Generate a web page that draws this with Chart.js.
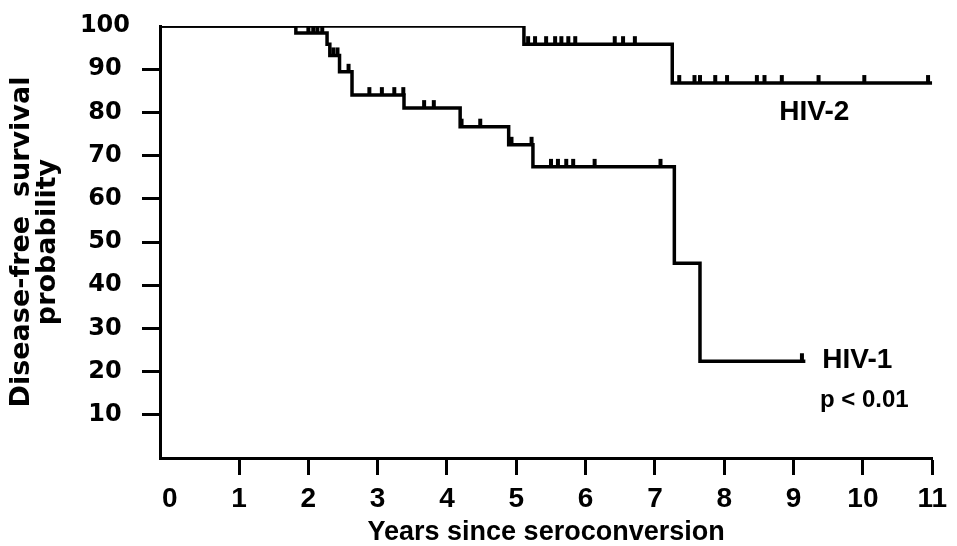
<!DOCTYPE html>
<html><head><meta charset="utf-8">
<script src="https://cdn.jsdelivr.net/npm/chart.js@4.4.1/dist/chart.umd.min.js"></script>
<style>html,body{margin:0;padding:0;background:#fff;} #wrap{width:957px;height:546px;}</style>
</head><body><div id="wrap"><canvas id="c" width="957" height="546"></canvas></div>
<script>
// ---- data ----
const xTickValues = [0,1,2,3,4,5,6,7,8,9,10,11];
const yTickValues = [10,20,30,40,50,60,70,80,90,100];
const xStart = -0.14;
const hiv1Times = [xStart, 1.82, 2.27, 2.31, 2.45, 2.63, 3.38, 4.19, 4.89, 5.24, 7.28, 7.65, 9.17];
const hiv1Surv  = [100, 98.4, 95.8, 93.2, 89.4, 84.0, 81.0, 76.7, 72.5, 67.4, 45.1, 22.4, 22.4];
const hiv2Times = [xStart, 5.11, 7.25, 11];
const hiv2Surv  = [100, 95.8, 86.8, 86.8];
const hiv2CensorTimes = [-0.08, 0.01, 0.22, 0.29, 0.37, 0.44, 0.51, 0.58, 0.65, 0.75, 0.84, 0.91, 0.98, 1.05, 1.18, 1.27, 1.34, 1.41, 1.47, 1.63, 1.73, 1.92, 1.99, 2.07, 2.13, 2.85, 3.09, 3.67, 3.77, 3.98, 4.07, 4.17, 4.56, 4.89, 5.0,
  5.17, 5.27, 5.43, 5.56, 5.65, 5.75, 5.85, 6.42, 6.54, 6.71,
  7.35, 7.57, 7.65, 7.87, 8.04, 8.47, 8.58, 8.83, 9.36, 10.02, 10.94];
const hiv2CensorSurv = [100,100,100,100,100,100,100,100,100,100,100,100,100,100,100,100,100,100,100,100,100,100,100,100,100,100,100,100,100,100,100,100,100,100,100,
  95.8,95.8,95.8,95.8,95.8,95.8,95.8,95.8,95.8,95.8,
  86.8,86.8,86.8,86.8,86.8,86.8,86.8,86.8,86.8,86.8,86.8];
const hiv1CensorTimes = [2.00, 2.07, 2.13, 2.20, 2.36, 2.42, 2.58, 2.88, 3.06, 3.24, 3.37, 3.67, 3.81, 4.21, 4.48, 4.93, 5.22, 5.50, 5.60, 5.72, 5.82, 6.13, 7.08, 9.12];
const hiv1CensorSurv  = [98.4, 98.4, 98.4, 98.4, 93.2, 93.2, 89.4, 84.0, 84.0, 84.0, 84.0, 81.0, 81.0, 76.7, 76.7, 72.5, 72.5, 67.4, 67.4, 67.4, 67.4, 67.4, 67.4, 22.4];
const noteTexts = ['HIV-2', 'HIV-1', 'p < 0.01'];
const noteX = [9.3, 9.92, 10.02];
const noteY = [80, 22.7, 13.4];

// ---- styling ----
const FONT = "'Liberation Sans', Arial, Helvetica, sans-serif";
const WIDE = "'DejaVu Sans', 'Liberation Sans', sans-serif";
const pts = (t, s) => t.map((v, i) => ({x: v, y: s[i]}));

const mark = document.createElement('canvas');
mark.width = 10; mark.height = 22;
(function(){ const g = mark.getContext('2d'); g.fillStyle = '#000'; g.fillRect(3, 3, 4, 8); })();

const notesPlugin = {
  id: 'notes',
  afterDatasetsDraw(chart) {
    const {ctx, scales: {x, y}} = chart;
    ctx.save();
    ctx.fillStyle = '#000';
    ctx.textAlign = 'center';
    ctx.textBaseline = 'middle';
    noteTexts.forEach((t, i) => {
      ctx.font = 'bold ' + (i === 2 ? 24 : 28) + 'px ' + FONT;
      ctx.fillText(t, x.getPixelForValue(noteX[i]), y.getPixelForValue(noteY[i]));
    });
    ctx.restore();
  }
};

new Chart(document.getElementById('c'), {
  type: 'scatter',
  data: {
    datasets: [
      {data: pts(hiv2Times, hiv2Surv), showLine: true, stepped: true, borderColor: '#000', borderWidth: 3.5, pointRadius: 0, fill: false},
      {data: pts(hiv1Times, hiv1Surv), showLine: true, stepped: true, borderColor: '#000', borderWidth: 3.5, pointRadius: 0, fill: false},
      {data: pts(hiv2CensorTimes, hiv2CensorSurv), showLine: false, pointStyle: mark, pointRadius: 4},
      {data: pts(hiv1CensorTimes, hiv1CensorSurv), showLine: false, pointStyle: mark, pointRadius: 4}
    ]
  },
  options: {
    responsive: false,
    animation: false,
    layout: {padding: {top: 26, right: 21, left: 0, bottom: 0}},
    plugins: {legend: {display: false}, tooltip: {enabled: false}},
    scales: {
      x: {
        type: 'linear', min: xStart, max: 11,
        afterBuildTicks: s => { s.ticks = xTickValues.map(v => ({value: v})); },
        afterFit: s => { s.height = 88; },
        border: {display: true, color: '#000', width: 3},
        grid: {drawOnChartArea: false, drawTicks: true, tickLength: 17, tickWidth: 3,
               tickColor: c => (c.tick && c.tick.value === 0) ? 'rgba(0,0,0,0)' : '#000'},
        ticks: {color: '#000', padding: 10, maxRotation: 0, autoSkip: false,
                font: {family: FONT, size: 28, weight: 'bold', lineHeight: 1}},
        title: {display: true, text: 'Years since seroconversion', color: '#000',
                font: {family: FONT, size: 27, weight: 'bold', lineHeight: 1}, padding: {top: 0, bottom: 0}}
      },
      y: {
        type: 'linear', min: 0, max: 100,
        afterBuildTicks: s => { s.ticks = yTickValues.map(v => ({value: v})); },
        afterFit: s => { s.width = 160; },
        border: {display: true, color: '#000', width: 3},
        grid: {drawOnChartArea: false, drawTicks: true, tickLength: 18, tickWidth: 3,
               tickColor: c => (c.tick && c.tick.value === 100) ? 'rgba(0,0,0,0)' : '#000'},
        ticks: {color: '#000', padding: 12, crossAlign: 'center', autoSkip: false,
                font: {family: WIDE, size: 24, weight: 'bold', lineHeight: 1}},
        title: {display: true, text: ['Disease-free  survival', 'probability'], color: '#000',
                font: {family: WIDE, size: 27, weight: 'bold', lineHeight: 0.96}, padding: {top: 9, bottom: 0}}
      }
    }
  },
  plugins: [notesPlugin]
});
</script>
</body></html>
